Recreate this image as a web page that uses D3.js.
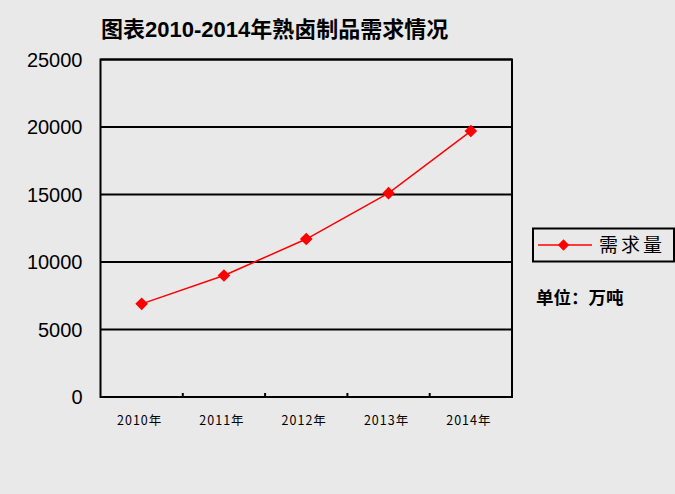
<!DOCTYPE html>
<html>
<head>
<meta charset="utf-8">
<script src="https://cdn.jsdelivr.net/npm/d3@7"></script>
<style>
  body { margin: 0; background: #e9e9e9; }
  svg { display: block; }
</style>
</head>
<body>
<div id="chart"></div>
<script>
// chart data
const years = ["2010年", "2011年", "2012年", "2013年", "2014年"];
const demand = [6900, 9000, 11700, 15100, 19700];
const yTicks = [0, 5000, 10000, 15000, 20000, 25000];
const seriesName = "需求量";
const unitLabel = "单位：万吨";
const titleText = "图表2010-2014年熟卤制品需求情况";

const width = 675, height = 494;
const margin = {top: 59.5, right: 163, bottom: 97, left: 100.5};
const innerW = width - margin.left - margin.right;
const innerH = height - margin.top - margin.bottom;

const svg = d3.select("#chart").append("svg")
    .attr("width", width)
    .attr("height", height);

svg.append("rect")
    .attr("width", width).attr("height", height)
    .attr("fill", "#e9e9e9");

const x = d3.scaleBand().domain(years).range([0, innerW]);
const y = d3.scaleLinear().domain([0, 25000]).range([innerH, 0]);

const g = svg.append("g")
    .attr("transform", `translate(${margin.left},${margin.top})`);

// horizontal grid lines
g.selectAll("line.grid")
    .data(yTicks)
    .enter().append("line")
    .attr("class", "grid")
    .attr("x1", 0).attr("x2", innerW)
    .attr("y1", d => y(d)).attr("y2", d => y(d))
    .attr("stroke", "#000").attr("stroke-width", 2);

// plot border
g.append("rect")
    .attr("width", innerW).attr("height", innerH)
    .attr("fill", "none").attr("stroke", "#000").attr("stroke-width", 2);

// y labels
g.selectAll("text.ylab")
    .data(yTicks)
    .enter().append("text")
    .attr("class", "ylab")
    .attr("x", -18)
    .attr("y", d => y(d))
    .attr("dy", "0.36em")
    .attr("text-anchor", "end")
    .attr("font-family", "'Liberation Sans', Arial, sans-serif")
    .attr("font-size", 20)
    .attr("fill", "#000")
    .text(d => d);

// x tick marks between categories (pointing inward)
g.selectAll("line.xtick")
    .data(years.slice(1))
    .enter().append("line")
    .attr("class", "xtick")
    .attr("x1", d => x(d)).attr("x2", d => x(d))
    .attr("y1", innerH).attr("y2", innerH - 4)
    .attr("stroke", "#000").attr("stroke-width", 2);

// x labels
g.selectAll("text.xlab")
    .data(years)
    .enter().append("text")
    .attr("class", "xlab")
    .attr("x", d => x(d) + x.bandwidth() / 2 - 2)
    .attr("y", innerH + 24)
    .attr("dy", "0.35em")
    .attr("text-anchor", "middle")
    .attr("font-family", "'Noto Sans CJK SC', sans-serif")
    .attr("font-size", 12.5)
    .attr("letter-spacing", 1)
    .attr("fill", "#000")
    .text(d => d);

// line series
const line = d3.line()
    .x((d, i) => x(years[i]) + x.bandwidth() / 2)
    .y(d => y(d));

g.append("path")
    .datum(demand)
    .attr("d", line)
    .attr("fill", "none")
    .attr("stroke", "#ff0000")
    .attr("stroke-width", 1.5);

// square turned 45 degrees = even diamond
const diamond = d3.symbol().type(d3.symbolSquare).size(80);

g.selectAll("path.pt")
    .data(demand)
    .enter().append("path")
    .attr("class", "pt")
    .attr("d", diamond)
    .attr("transform", (d, i) => `translate(${x(years[i]) + x.bandwidth() / 2},${y(d)}) rotate(45)`)
    .attr("fill", "#ff0000");

// title
svg.append("text")
    .attr("x", 101)
    .attr("y", 29.5)
    .attr("dy", "0.35em")
    .attr("font-family", "'Liberation Sans', 'Noto Sans CJK SC', sans-serif")
    .attr("font-weight", "bold")
    .attr("font-size", 22)
    .attr("fill", "#000")
    .text(titleText);

// legend
const legend = svg.append("g").attr("transform", "translate(533,228.5)");
legend.append("rect")
    .attr("width", 141).attr("height", 33)
    .attr("fill", "none").attr("stroke", "#000").attr("stroke-width", 2);
legend.append("line")
    .attr("x1", 5).attr("x2", 59)
    .attr("y1", 16.5).attr("y2", 16.5)
    .attr("stroke", "#ff0000").attr("stroke-width", 1.5);
legend.append("path")
    .attr("d", d3.symbol().type(d3.symbolSquare).size(64))
    .attr("transform", "translate(30.5,16.5) rotate(45)")
    .attr("fill", "#ff0000");
legend.append("text")
    .attr("x", 66)
    .attr("y", 16.5)
    .attr("dy", "0.36em")
    .attr("font-family", "'Noto Sans CJK SC', sans-serif")
    .attr("font-size", 19)
    .attr("letter-spacing", 3)
    .attr("fill", "#000")
    .text(seriesName);

svg.append("text")
    .attr("x", 536)
    .attr("y", 297.5)
    .attr("dy", "0.36em")
    .attr("font-family", "'Noto Sans CJK SC', sans-serif")
    .attr("font-weight", "bold")
    .attr("font-size", 17.5)
    .attr("fill", "#000")
    .text(unitLabel);
</script>
</body>
</html>
